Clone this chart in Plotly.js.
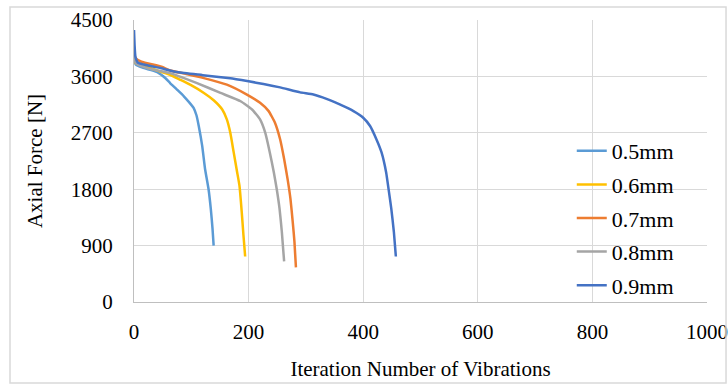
<!DOCTYPE html>
<html>
<head>
<meta charset="utf-8">
<script src="https://cdn.plot.ly/plotly-3.0.1.min.js"></script>
<style>html,body{margin:0;padding:0;background:#fff;}#chart{width:728px;height:385px;}</style>
</head>
<body>
<div id="chart"></div>
<script>
// Series names and colours
const seriesNames = ["0.5mm", "0.6mm", "0.7mm", "0.8mm", "0.9mm"];
const seriesColors = ["#5B9BD5", "#FFC000", "#ED7D31", "#A5A5A5", "#4472C4"];

// Iteration number of vibrations (x) and axial force [N] (y)
const x05 = [0, 3, 15, 30, 42, 55, 63, 75, 87, 96, 104, 109, 113, 119, 124, 130, 134, 137, 139];
const y05 = [3900, 3790, 3740, 3700, 3660, 3570, 3494, 3390, 3283, 3190, 3099, 2980, 2809, 2492, 2123, 1807, 1491, 1174, 900];

const x06 = [0, 3, 20, 47, 63, 80, 98, 122, 139, 154, 162, 168, 174, 180, 184, 188, 191, 194];
const y06 = [3920, 3810, 3760, 3675, 3626, 3550, 3468, 3336, 3220, 3072, 2914, 2703, 2387, 2071, 1860, 1438, 1069, 726];

const x07 = [0, 3, 13, 48, 63, 90, 122, 162, 197, 220, 235, 246, 255, 262, 268, 273, 277, 280, 282.6];
const y07 = [3960, 3890, 3834, 3755, 3695, 3640, 3573, 3468, 3310, 3178, 3046, 2862, 2598, 2282, 1965, 1649, 1280, 963, 552];

const x08 = [0, 3, 24, 63, 85, 110, 151, 186, 206, 220, 229, 237, 244, 249, 254, 258, 262];
const y08 = [3930, 3810, 3729, 3652, 3580, 3494, 3336, 3204, 3072, 2914, 2703, 2387, 2071, 1807, 1491, 1121, 647];

const x09 = [0, 1, 2.5, 7, 48, 77, 120, 168, 200, 226, 255, 290, 313, 336, 359, 383, 400, 412, 423, 432, 440, 445, 449, 453.5, 457];
const y09 = [4340, 4100, 3914, 3819, 3729, 3665, 3620, 3569, 3521, 3479, 3425, 3345, 3310, 3241, 3152, 3046, 2941, 2809, 2598, 2387, 2071, 1754, 1491, 1121, 726];

const xTickVals = [0, 200, 400, 600, 800, 1000];
const yTickVals = [0, 900, 1800, 2700, 3600, 4500];

const xs = [x05, x06, x07, x08, x09];
const ys = [y05, y06, y07, y08, y09];

const traces = seriesNames.map((name, i) => ({
  type: "scatter",
  mode: "lines",
  name: name,
  legendgroup: "g" + i,
  x: xs[i],
  y: ys[i],
  line: {color: seriesColors[i], width: 2.5, shape: "spline", smoothing: 0.4}
}));

const fam = "Liberation Serif";
const tickFont = {family: fam, size: 21, color: "#000"};
const titleFont = {family: fam, size: 21, color: "#000"};
const legendFont = {family: fam, size: 22, color: "#000"};

const layout = {
  width: 728,
  height: 385,
  margin: {l: 134, r: 21, t: 20, b: 83},
  paper_bgcolor: "#fff",
  plot_bgcolor: "#fff",
  font: tickFont,
  showlegend: true,
  legend: {
    x: 0.764, y: 0.61, xanchor: "left", yanchor: "top",
    bgcolor: "rgba(0,0,0,0)", borderwidth: 0,
    font: legendFont, tracegroupgap: 2
  },
  xaxis: {
    range: [0, 1000],
    tickvals: xTickVals,
    showgrid: true, gridcolor: "#d9d9d9", gridwidth: 1,
    zeroline: false,
    showline: true, linecolor: "#bfbfbf", linewidth: 1,
    ticks: "",
    ticklabelstandoff: 11,
    tickfont: tickFont,
    title: {text: "Iteration Number of Vibrations", font: titleFont, standoff: 18}
  },
  yaxis: {
    range: [0, 4500],
    tickvals: yTickVals,
    showgrid: true, gridcolor: "#d9d9d9", gridwidth: 1,
    zeroline: false,
    showline: true, linecolor: "#bfbfbf", linewidth: 1,
    ticks: "",
    ticklabelstandoff: 16,
    tickfont: tickFont,
    title: {text: "Axial Force [N]", font: titleFont, standoff: 22}
  },
  shapes: [
    {
      type: "rect", xref: "paper", yref: "paper", layer: "between",
      x0: 0.731, x1: 0.992, y0: 0.032, y1: 0.599,
      line: {width: 0}, fillcolor: "#fff"
    },
    {
      type: "rect", xref: "paper", yref: "paper",
      x0: -0.2164, x1: 1.0332, y0: -0.2872, y1: 1.0461,
      line: {color: "#d9d9d9", width: 1.5}, fillcolor: "rgba(0,0,0,0)"
    }
  ]
};

Plotly.newPlot("chart", traces, layout, {displayModeBar: false, staticPlot: true});
</script>
</body>
</html>
